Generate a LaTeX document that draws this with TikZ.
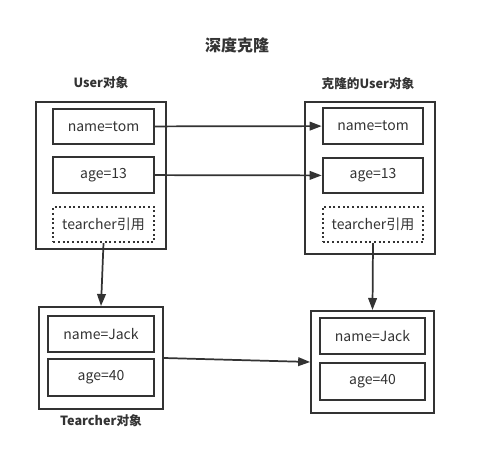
\documentclass[tikz,border=0pt]{standalone}
\usepackage{fontspec}
\setmainfont{Noto Sans CJK SC}
\usetikzlibrary{positioning}
\usetikzlibrary{arrows.meta}
\definecolor{ink}{HTML}{333333}
\tikzset{%
  obj/.style = {rectangle,draw=ink,line width=1.5pt,inner sep=0pt},
  field/.style = {rectangle,draw=ink,solid,line width=1.5pt,text=ink,
        minimum width=75.5pt,minimum height=26.5pt,
        font=\fontsize{10.5}{12}\selectfont},
  ref/.style = {field,dotted},
  objlabel/.style = {text=ink,font=\fontsize{9.5}{11}\selectfont\bfseries},
  link/.style = {-{Triangle[length=9pt,width=6.5pt]},draw=ink,line width=1.3pt}
}
\begin{document}
\begin{tikzpicture}[x=0.75pt,y=-0.75pt]
    \useasboundingbox (0,0) rectangle (483,457);
    \node[text=ink,font=\fontsize{12}{14}\selectfont\bfseries] (title) at (237,45) {深度克隆};

    % original object
    \node[obj,minimum width=97.5pt,minimum height=110pt] (user) at (101,175.5) {};
    \node[objlabel] (user-label) at (101,83) {User对象};
    \node[field] (user-name) at (103.5,126.5) {name=tom};
    \node[field] (user-age) at (103.5,175) {age=13};
    \node[ref] (user-ref) at (103.5,224.5) {tearcher引用};

    % cloned object
    \node[obj,minimum width=97.5pt,minimum height=114pt] (clone) at (370,178) {};
    \node[objlabel] (clone-label) at (368,84) {克隆的User对象};
    \node[field] (clone-name) at (373,126) {name=tom};
    \node[field] (clone-age) at (373,175.5) {age=13};
    \node[ref] (clone-ref) at (373,224.5) {tearcher引用};

    % teacher objects
    \node[obj,minimum width=93pt,minimum height=76.5pt] (teacher) at (101,358) {};
    \node[objlabel] (teacher-label) at (101,421) {Tearcher对象};
    \node[field,minimum width=79.5pt,minimum height=27pt] (teacher-name) at (101,334) {name=Jack};
    \node[field,minimum width=79.5pt,minimum height=27.5pt] (teacher-age) at (101,377.5) {age=40};

    \node[obj,minimum width=92pt,minimum height=76.5pt] (teacher2) at (372.5,362) {};
    \node[field,minimum width=79pt,minimum height=27pt] (teacher2-name) at (372.5,336) {name=Jack};
    \node[field,minimum width=79pt,minimum height=27.5pt] (teacher2-age) at (372.5,381.5) {age=40};

    \draw[link] (user-name) -- (clone-name);
    \draw[link] (user-age) -- (clone-age);
    \draw[link] (user-ref.south) -- (teacher.north);
    \draw[link] (clone-ref.south) -- (teacher2.north);
    \draw[link] (teacher.east) -- (teacher2.west);
\end{tikzpicture}
\end{document}
